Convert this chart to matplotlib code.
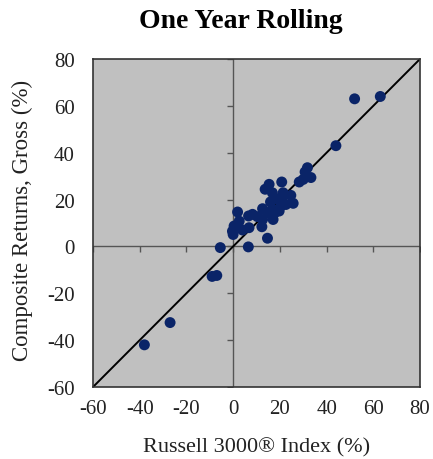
import matplotlib.pyplot as plt

# ── Data ──────────────────────────────────────────────────────────────────────

russell = [63, 52, 44, -38, -27, -9, -7, -5.5, 6.5,
           31.8, 30.8, 33.3, 28.3, 30, 20.8, 15.4, 13.7, 16.8, 21.4,
           24.7, 18.3, 25.7, 22.6, 20.4, 12.6, 16.8, 19.7, 14.7, 8.3,
           10.4, 1.9, 6.6, 12.6, 17.1, 2.6, 0.4, -0.3, 0, 4, 6.8,
           12.3, 14.7, 18, 21, 16]
composite = [64, 63, 43, -42, -32.5, -12.8, -12.4, -0.5, -0.2,
             33.6, 31.8, 29.4, 27.5, 28.6, 27.5, 26.5, 24.4, 22.9, 22.9,
             21.8, 20.4, 18.4, 17.9, 17.2, 16.1, 15.8, 15.1, 14.4, 13.7,
             12.7, 14.7, 13, 11.5, 11.5, 10.8, 8.7, 6.5, 5.1, 7, 8,
             8.4, 3.5, 14.5, 21, 19]

ticks = [-60, -40, -20, 0, 20, 40, 60, 80]

SERIF = ["Liberation Serif", "DejaVu Serif"]
NAVY = "#0A2468"
plt.rcParams["axes.unicode_minus"] = False

fig = plt.figure(figsize=(4.33, 4.60), dpi=100)
ax = fig.add_axes([93 / 433, 1 - 388 / 460, 327 / 433, 328 / 460])
ax.set_facecolor("#C0C0C0")

ax.set_xlim(-60, 80)
ax.set_ylim(-60, 80)
ax.set_xticks(ticks)
ax.set_yticks(ticks)
ax.tick_params(length=0, labelsize=15, colors="#222222")
ax.tick_params(axis="x", pad=9)
ax.tick_params(axis="y", pad=13)
for lab in ax.get_xticklabels() + ax.get_yticklabels():
    lab.set_family(SERIF)
for s in ax.spines.values():
    s.set_color("#333333")
    s.set_linewidth(1.2)

# zero lines with little tick marks (Excel-style crossing axes)
ax.axhline(0, color="#555555", lw=1.0, zorder=1)
ax.axvline(0, color="#555555", lw=1.0, zorder=1)
ax.plot(ticks, [0] * len(ticks), ls="none", marker=3, ms=4,
        mec="#555555", mew=1.0, zorder=1)
ax.plot([0] * len(ticks), ticks, ls="none", marker=0, ms=4,
        mec="#555555", mew=1.0, zorder=1)

# 45° line
ax.plot([-60, 80], [-60, 80], color="black", lw=1.4, zorder=2)

ax.scatter(russell, composite, s=62, color=NAVY, edgecolors="none", zorder=3)

fig.text(241 / 433, 1 - 22 / 460, "One Year Rolling", ha="center", va="center",
         fontsize=20, fontweight="bold", family=SERIF)
ax.set_xlabel("Russell 3000® Index (%)", fontsize=16, family=SERIF,
              color="#222222", va="center")
ax.set_ylabel("Composite Returns, Gross (%)", fontsize=16.5, family=SERIF,
              color="#222222", va="center")
ax.xaxis.set_label_coords(0.5, -(448 - 388) / 328)
ax.yaxis.set_label_coords(-(93 - 22) / 327, (388 - 220) / 328)

fig.savefig("out.png", dpi=100)
